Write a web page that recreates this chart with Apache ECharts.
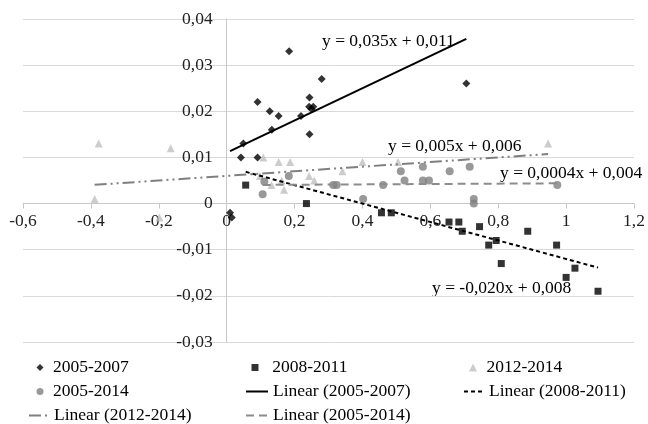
<!DOCTYPE html>
<html>
<head>
<meta charset="utf-8">
<script src="https://cdn.jsdelivr.net/npm/echarts@6/dist/echarts.min.js"></script>
<style>
    body { margin: 0; background: #fff; }
    #chart { width: 648px; height: 424px; }
</style>
</head>
<body>
<div id="chart"></div>
<script>
// Données : [x, y]
const s0507 = [
    [0.010, -0.002], [0.015, -0.003], [0.042, 0.010], [0.049, 0.013], [0.091, 0.010],
    [0.091, 0.022], [0.127, 0.020], [0.133, 0.016], [0.153, 0.019], [0.184, 0.033],
    [0.219, 0.019], [0.243, 0.021], [0.244, 0.023], [0.244, 0.015], [0.250, 0.0205],
    [0.255, 0.021], [0.280, 0.027], [0.706, 0.026]
];
const s0811 = [
    [0.056, 0.004], [0.235, 0.000], [0.456, -0.002], [0.485, -0.002], [0.655, -0.004],
    [0.684, -0.004], [0.694, -0.006], [0.745, -0.005], [0.772, -0.009], [0.794, -0.008],
    [0.809, -0.013], [0.887, -0.006], [0.972, -0.009], [1.000, -0.016], [1.026, -0.014],
    [1.094, -0.019]
];
const s1214 = [
    [-0.389, 0.001], [-0.377, 0.013], [-0.198, -0.003], [-0.165, 0.012], [0.098, 0.006],
    [0.108, 0.010], [0.132, 0.004], [0.153, 0.009], [0.162, 0.005], [0.169, 0.003],
    [0.187, 0.009], [0.243, 0.006], [0.258, 0.005], [0.341, 0.007], [0.400, 0.009],
    [0.505, 0.009], [0.947, 0.013]
];
const s0514 = [
    [0.106, 0.002], [0.111, 0.0048], [0.183, 0.006], [0.314, 0.004], [0.324, 0.004],
    [0.402, 0.001], [0.461, 0.004], [0.513, 0.007], [0.524, 0.005], [0.578, 0.008],
    [0.578, 0.005], [0.596, 0.005], [0.657, 0.007], [0.716, 0.008], [0.728, 0.001],
    [0.728, 0.000], [0.974, 0.004]
];

const seriesNames = ['2005-2007', '2008-2011', '2012-2014', '2005-2014'];
// Droites de tendance affichées (pente, ordonnée à l'origine)
const slopes = [0.035, -0.020, 0.005, 0.0004];
const intercepts = [0.011, 0.008, 0.006, 0.004];
const equations = ['y = 0,035x + 0,011', 'y = -0,020x + 0,008', 'y = 0,005x + 0,006', 'y = 0,0004x + 0,004'];

const xTicks = { min: -0.6, max: 1.2, interval: 0.2 };
const yTicks = { min: -0.03, max: 0.04, interval: 0.01 };

const FONT = 'Liberation Serif';
const allData = [s0507, s0811, s1214, s0514];

// Cadre du graphique (px)
const G = { left: 23, right: 14, top: 19, bottom: 82, w: 648, h: 424 };
const plotW = G.w - G.left - G.right;
const plotH = G.h - G.top - G.bottom;
// décalage pour que les axes passent par zéro (étiquettes comprises)
const xAxisOffset = -plotH * (0 - yTicks.min) / (yTicks.max - yTicks.min);
const yAxisOffset = -plotW * (0 - xTicks.min) / (xTicks.max - xTicks.min);

function trend(i) {
    const xs = allData[i].map(p => p[0]);
    const x0 = Math.min(...xs), x1 = Math.max(...xs);
    return [[x0, slopes[i] * x0 + intercepts[i]], [x1, slopes[i] * x1 + intercepts[i]]];
}

function fmt(v) {
    return String(parseFloat(v.toFixed(3))).replace('.', ',');
}

const chart = echarts.init(document.getElementById('chart'));

const lineStyles = [
    { color: '#000', width: 2, type: 'solid' },
    { color: '#000', width: 2, type: [4, 3] },
    { color: '#7f7f7f', width: 2, type: [12, 4, 2, 4, 2, 4] },
    { color: '#8c8c8c', width: 2, type: [8, 5] }
];

function legendItem(name, left, top, w, h, spaces, isLine) {
    const l = {
        data: [name],
        left: left, top: top,
        padding: 0,
        itemWidth: w, itemHeight: h,
        formatter: n => ' '.repeat(spaces) + n,
        textStyle: { fontFamily: FONT, fontSize: 17.5, color: '#000' }
    };
    if (isLine) l.itemStyle = { opacity: 0 };
    return l;
}

const option = {
    animation: false,
    grid: { left: G.left, right: G.right, top: G.top, bottom: G.bottom, containLabel: false, outerBoundsMode: 'none' },
    xAxis: {
        type: 'value',
        position: 'bottom',
        offset: xAxisOffset,
        min: xTicks.min, max: xTicks.max, interval: xTicks.interval,
        axisLine: { onZero: false, lineStyle: { color: '#c8c8c8', width: 1 } },
        axisTick: { show: true, length: 5, lineStyle: { color: '#c8c8c8' } },
        axisLabel: { formatter: fmt, margin: 9, fontFamily: FONT, fontSize: 17.5, color: '#222', hideOverlap: false },
        splitLine: { show: false }
    },
    yAxis: {
        type: 'value',
        position: 'left',
        offset: yAxisOffset,
        min: yTicks.min, max: yTicks.max, interval: yTicks.interval,
        axisLine: { show: true, onZero: false, lineStyle: { color: '#c8c8c8', width: 1 } },
        axisTick: { show: false },
        axisLabel: { formatter: fmt, margin: 14, fontFamily: FONT, fontSize: 17.5, color: '#222', hideOverlap: false },
        splitLine: { show: true, lineStyle: { color: '#d9d9d9', width: 1 } }
    },
    legend: [
        legendItem('2005-2007', 36.5, 358.5, 7, 7, 1),
        legendItem('2008-2011', 251.5, 358.5, 7, 7, 2),
        legendItem('2012-2014', 469, 358.5, 8, 8, 1),
        legendItem('2005-2014', 36.5, 382.5, 7, 7, 1),
        legendItem('Linear (2005-2007)', 245, 382.5, 22, 8, 0, true),
        legendItem('Linear (2008-2011)', 463, 382.5, 20, 8, 0, true),
        legendItem('Linear (2012-2014)', 28, 406.5, 20, 8, 0, true),
        legendItem('Linear (2005-2014)', 245, 406.5, 22, 8, 0, true)
    ],
    series: [
        { name: seriesNames[0], type: 'scatter', data: s0507, symbol: 'diamond', symbolSize: 8, itemStyle: { color: '#000' } },
        { name: seriesNames[1], type: 'scatter', data: s0811, symbol: 'rect', symbolSize: 7, itemStyle: { color: '#000' } },
        { name: seriesNames[2], type: 'scatter', data: s1214, symbol: 'triangle', symbolSize: 8, itemStyle: { color: '#bfbfbf' } },
        { name: seriesNames[3], type: 'scatter', data: s0514, symbol: 'circle', symbolSize: 8, itemStyle: { color: '#7f7f7f' } },
        { name: 'Linear (2005-2007)', type: 'line', data: trend(0), symbol: 'none', lineStyle: lineStyles[0], itemStyle: { color: '#000' } },
        { name: 'Linear (2008-2011)', type: 'line', data: trend(1), symbol: 'none', lineStyle: lineStyles[1], itemStyle: { color: '#000' } },
        { name: 'Linear (2012-2014)', type: 'line', data: trend(2), symbol: 'none', lineStyle: lineStyles[2], itemStyle: { color: '#7f7f7f' } },
        { name: 'Linear (2005-2014)', type: 'line', data: trend(3), symbol: 'none', lineStyle: lineStyles[3], itemStyle: { color: '#8c8c8c' } }
    ],
    graphic: [
        { type: 'text', left: 322, top: 32, style: { text: equations[0], font: '17.5px "Liberation Serif"', fill: '#000' } },
        { type: 'text', left: 432, top: 279, style: { text: equations[1], font: '17.5px "Liberation Serif"', fill: '#000' } },
        { type: 'text', left: 388, top: 137, style: { text: equations[2], font: '17.5px "Liberation Serif"', fill: '#000' } },
        { type: 'text', left: 500, top: 164, style: { text: equations[3], font: '17.5px "Liberation Serif"', fill: '#000' } }
    ]
};

chart.setOption(option);
</script>
</body>
</html>
